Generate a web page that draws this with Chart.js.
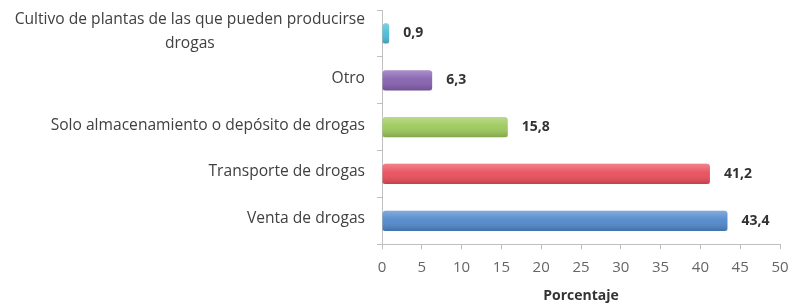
<!DOCTYPE html>
<html>
<head>
<meta charset="utf-8">
<script src="https://cdn.jsdelivr.net/npm/chart.js@4"></script>
<style>
  html, body { margin: 0; padding: 0; background: #fff; }
  #wrap { width: 791px; height: 305px; }
</style>
</head>
<body>
<div id="wrap"><canvas id="chart"></canvas></div>
<script>
const categories = [
    ['Cultivo de plantas de las que pueden producirse', 'drogas'],
    'Otro',
    'Solo almacenamiento o depósito de drogas',
    'Transporte de drogas',
    'Venta de drogas'
];
const values = [0.9, 6.3, 15.8, 41.2, 43.4];
const valueLabels = ['0,9', '6,3', '15,8', '41,2', '43,4'];
const barColors = ['#4bbcd6', '#8661b0', '#9cc95a', '#ea4d5a', '#5088cc'];
const xTicks = [0, 5, 10, 15, 20, 25, 30, 35, 40, 45, 50];

const FONT = '"Open Sans", sans-serif';

// shading on the bars, value labels and the category labels
const extrasPlugin = {
    id: 'extras',
    afterDatasetsDraw: function (chart) {
        const ctx = chart.ctx;
        const meta = chart.getDatasetMeta(0);
        ctx.save();
        meta.data.forEach(function (bar) {
            const p = bar.getProps(['x', 'y', 'base', 'height'], true);
            const top = p.y - p.height / 2;
            const g = ctx.createLinearGradient(0, top, 0, top + p.height);
            g.addColorStop(0, 'rgba(255,255,255,0.30)');
            g.addColorStop(0.45, 'rgba(255,255,255,0.05)');
            g.addColorStop(1, 'rgba(0,0,0,0.18)');
            ctx.fillStyle = g;
            ctx.fillRect(p.base, top, p.x - p.base, p.height);
        });

        ctx.font = 'bold 14px ' + FONT;
        ctx.fillStyle = '#333333';
        ctx.textBaseline = 'middle';
        ctx.textAlign = 'left';
        meta.data.forEach(function (bar, i) {
            ctx.fillText(valueLabels[i], bar.x + 14, bar.y);
        });

        // category labels: single lines right aligned, wrapped lines centred on each other
        const yScale = chart.scales.y;
        const right = yScale.right - 17;
        ctx.font = '15.6px ' + FONT;
        ctx.fillStyle = '#404040';
        ctx.textAlign = 'center';
        categories.forEach(function (label, i) {
            const lines = Array.isArray(label) ? label : [label];
            const w = Math.max.apply(null, lines.map(l => ctx.measureText(l).width));
            const cx = right - w / 2;
            const lh = 24;
            const y0 = yScale.getPixelForTick(i) - (lines.length - 1) * lh / 2 - 2;
            lines.forEach(function (l, j) {
                ctx.fillText(l, cx, y0 + j * lh);
            });
        });
        ctx.restore();
    }
};

new Chart(document.getElementById('chart'), {
    type: 'bar',
    data: {
        labels: categories,
        datasets: [{
            data: values,
            backgroundColor: barColors,
            borderWidth: 0,
            borderRadius: 3,
            borderSkipped: false,
            barPercentage: 0.9,
            categoryPercentage: 0.48
        }]
    },
    options: {
        indexAxis: 'y',
        responsive: true,
        maintainAspectRatio: false,
        animation: false,
        layout: { padding: { top: 10, right: 0, left: 0, bottom: 1 } },
        plugins: {
            legend: { display: false },
            tooltip: { enabled: false }
        },
        scales: {
            x: {
                min: 0,
                max: 50,
                afterBuildTicks: function (axis) {
                    axis.ticks = xTicks.map(v => ({ value: v }));
                },
                afterFit: function (scale) {
                    scale.paddingRight = 11;
                },
                grid: {
                    drawOnChartArea: false,
                    color: '#bfbfbf',
                    tickLength: 5
                },
                border: { color: '#bfbfbf' },
                ticks: {
                    color: '#666666',
                    font: { family: FONT, size: 15 },
                    padding: 10,
                    maxRotation: 0
                },
                title: {
                    display: true,
                    text: 'Porcentaje',
                    color: '#333333',
                    font: { family: FONT, size: 14, weight: 'bold' },
                    padding: { top: 0, bottom: 0 }
                }
            },
            y: {
                afterFit: function (scale) {
                    scale.width = 382;
                },
                grid: {
                    drawOnChartArea: false,
                    color: '#bfbfbf',
                    tickLength: 5
                },
                border: { color: '#bfbfbf' },
                ticks: { display: false }
            }
        }
    },
    plugins: [extrasPlugin]
});
</script>
</body>
</html>
